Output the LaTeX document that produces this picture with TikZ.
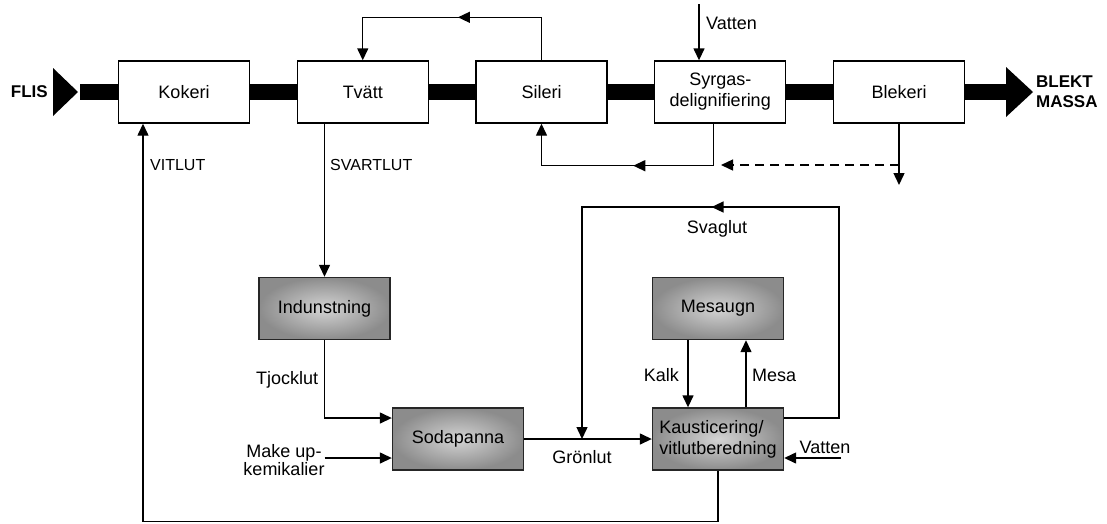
\documentclass[tikz,border=0pt]{standalone}
\usepackage{fontspec}
\setmainfont{Liberation Sans}
\usetikzlibrary{arrows.meta,decorations.markings}

\begin{document}
\begin{tikzpicture}[x=1pt,y=-1pt,
 blk/.style={draw,line width=1.4pt,minimum width=131pt,minimum height=62pt,
  inner sep=0pt,align=center,font=\fontsize{18}{21}\selectfont},
 box/.style={blk,fill=white},
 ovn/.style={blk,draw=black!85,inner color=black!17,outer color=black!45},
 lbl/.style={inner sep=0pt,align=center,font=\fontsize{18}{18}\selectfont},
 caps/.style={inner sep=0pt,font=\fontsize{16}{18}\selectfont},
 big/.style={inner sep=0pt,align=left,font=\fontsize{17}{20}\selectfont\bfseries},
 ln/.style={line width=1.4pt},
 pil/.style={ln,-{Triangle[length=12pt,width=11pt]}},
 pmid/.style={postaction={decorate},decoration={markings,
  mark=at position #1 with {\arrow{Triangle[length=12pt,width=11pt]}}}},
 bar/.style={line width=16pt}]

\useasboundingbox (0,0) rectangle (1107,523);

%main line
\foreach \n/\t [count=\i from 0] in {kokeri/Kokeri,tvatt/Tvätt,sileri/Sileri,
  syrgas/{Syrgas-\\delignifiering},blekeri/Blekeri}
 \node[box] (\n) at ({184+178.75*\i},92) {\t};
\foreach \a/\b in {kokeri/tvatt,tvatt/sileri,sileri/syrgas,syrgas/blekeri}
 \draw[bar] (\a.east) -- (\b.west);

\node[big,anchor=east] (flis) at (48,92) {FLIS};
\fill (53,68) -- (78,92) -- (53,116) -- cycle;
\draw[bar] (80,92) -- (kokeri.west);

\node[big,anchor=west] (blekt) at (1036,92) {BLEKT\\MASSA};
\draw[bar] (blekeri.east) -- (1007,92);
\fill (1006,67) -- (1033,92) -- (1006,117) -- cycle;

%chemical loop
\node[ovn] (indun) at (324.5,308.5) {Indunstning};
\node[ovn] (soda) at (458,439) {Sodapanna};
\node[ovn] (mesa) at (718,308.5) {Mesaugn};
\node[ovn,align=left] (kaust) at (718,439) {Kausticering/\\vitlutberedning};

%around the main line
\draw[ln,-{Triangle[length=12pt,width=11pt]},pmid=0.478]
 (sileri.north) -- ++(0,-43) -| (tvatt.north);
\coordinate (vt) at (699,4);
\node[lbl,anchor=west] (vatA) at (706,23) {Vatten};
\draw[pil] (vt) -- (vt |- syrgas.north);
\draw[ln,-{Triangle[length=12pt,width=11pt]},pmid=0.477]
 ([xshift=-7pt]syrgas.south) -- ++(0,42) -| (sileri.south);
\coordinate (dsh) at (899,165);
\coordinate (ret) at (721,165);
\draw[pil] (blekeri.south -| dsh) -- (899,185);
\draw[pil,dash pattern=on 9pt off 6pt] (dsh) -- (ret);

%lut
\node[caps,anchor=west] (vitlut) at (150,165) {VITLUT};
\node[caps,anchor=west] (svartlut) at (330,165) {SVARTLUT};
\draw[pil] (kaust.south) -- ++(0,51) -| ([xshift=-41pt]kokeri.south);
\draw[pil] (indun.north |- tvatt.south) -- (indun.north);

\node[lbl,anchor=west] (tjock) at (256,380) {Tjocklut};
\draw[pil] (indun.south) |- ([yshift=21pt]soda.west);
\node[lbl] (makeup) at (284,460) {Make up-\\kemikalier};
\coordinate (mk) at ([yshift=-19pt]soda.west);
\draw[pil] (makeup.east |- mk) -- (mk);

\draw[pil] (soda.east) -- (kaust.west);
\node[lbl] (gron) at (582,457) {Grönlut};
\coordinate (jn) at (582,439);
\draw[ln,-{Triangle[length=12pt,width=11pt]},pmid=0.521]
 ([yshift=21pt]kaust.east) -| (839,207) -| (jn);
\node[lbl] (svag) at (717,229) {Svaglut};

\draw[pil] ([xshift=-30pt]mesa.south) -- ([xshift=-30pt]kaust.north);
\draw[pil] ([xshift=28pt]kaust.north) -- ([xshift=28pt]mesa.south);
\node[lbl,anchor=east] (kalk) at (679,375) {Kalk};
\node[lbl,anchor=west] (mesatx) at (752,375) {Mesa};

\coordinate (vb) at (841,458);
\draw[pil] (vb) -- (vb -| kaust.east);
\node[lbl] (vatB) at (825,447) {Vatten};

\end{tikzpicture}
\end{document}
